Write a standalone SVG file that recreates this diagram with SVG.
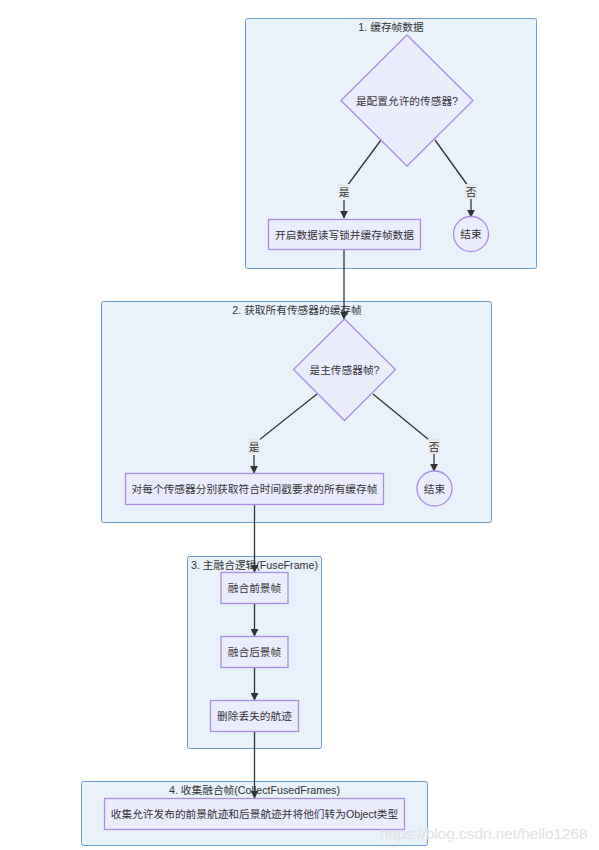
<svg xmlns="http://www.w3.org/2000/svg" width="599" height="850" viewBox="0 0 599 850">
<defs>
<marker id="arr" viewBox="0 0 10 10" refX="9" refY="5" markerWidth="8" markerHeight="8" markerUnits="userSpaceOnUse" orient="auto">
<path d="M0,0 L10,5 L0,10 z" fill="#333"/>
</marker>
<style>
text{font-family:"Liberation Sans","Noto Sans CJK SC",sans-serif;font-size:10.7px;fill:#333;text-anchor:middle;dominant-baseline:central}
.cl{fill:#e9f1fb;stroke:#6d9bd3;stroke-width:1}
.nd{fill:#ececff;stroke:#a98ee4;stroke-width:1.3}
.ed{fill:none;stroke:#333;stroke-width:1.3}
.lb{fill:#e8e8e8}
.wm{fill:#e2e2e2;font-size:15.3px;text-anchor:start}
</style>
</defs>
<rect width="599" height="850" fill="#fff"/>
<g id="cluster1"><rect class="cl" x="245.5" y="18.5" width="291" height="250" rx="2"/><text x="391" y="27">1. 缓存帧数据</text></g>
<g id="cluster2"><rect class="cl" x="101.5" y="301.5" width="390" height="221" rx="2"/><text x="297" y="310">2. 获取所有传感器的缓存帧</text></g>
<g id="cluster3"><rect class="cl" x="187.5" y="556.5" width="134" height="192" rx="2"/><text x="254.5" y="565">3. 主融合逻辑(FuseFrame)</text></g>
<g id="cluster4"><rect class="cl" x="81.5" y="781.5" width="346" height="64" rx="2"/><text x="254.5" y="790">4. 收集融合帧(CollectFusedFrames)</text></g>

<g id="connectors">
<path class="ed" d="M381,140 L344,190"/>
<path class="ed" d="M344,200 L344,218" marker-end="url(#arr)"/>
<path class="ed" d="M435,140 L471,190"/>
<path class="ed" d="M471,199 L471,217" marker-end="url(#arr)"/>
<path class="ed" d="M344,249 L344,319" marker-end="url(#arr)"/>
<path class="ed" d="M317,394 L254,444"/>
<path class="ed" d="M254,455 L254,473" marker-end="url(#arr)"/>
<path class="ed" d="M373,394 L434,444"/>
<path class="ed" d="M434,454 L434,471" marker-end="url(#arr)"/>
<path class="ed" d="M254.5,504 L254.5,572" marker-end="url(#arr)"/>
<path class="ed" d="M254.5,603 L254.5,636" marker-end="url(#arr)"/>
<path class="ed" d="M254.5,668 L254.5,700" marker-end="url(#arr)"/>
<path class="ed" d="M254.5,732 L254.5,798" marker-end="url(#arr)"/>
<rect class="lb" x="338" y="184" width="12" height="15"/><text x="344" y="191.5">是</text>
<rect class="lb" x="465" y="184" width="12" height="15"/><text x="471" y="191.5">否</text>
<rect class="lb" x="248" y="439" width="12" height="15"/><text x="254" y="446.5">是</text>
<rect class="lb" x="428" y="439" width="12" height="15"/><text x="434" y="446.5">否</text>
</g>

<g id="decision1"><polygon class="nd" points="407,35 473,100.5 407,166 341,100.5"/><text x="407" y="100.5">是配置允许的传感器?</text></g>
<g id="cache"><rect class="nd" x="268.5" y="219.5" width="152" height="30"/><text x="344.5" y="234.5">开启数据读写锁并缓存帧数据</text></g>
<g id="end1"><circle class="nd" cx="471" cy="234" r="17.5"/><text x="471" y="234">结束</text></g>

<g id="decision2"><polygon class="nd" points="344.5,319 395.5,369.5 344.5,420.5 293.5,369.5"/><text x="344.5" y="369.5">是主传感器帧?</text></g>
<g id="getframes"><rect class="nd" x="125.5" y="473.5" width="258" height="31"/><text x="254.5" y="489">对每个传感器分别获取符合时间戳要求的所有缓存帧</text></g>
<g id="end2"><circle class="nd" cx="434.5" cy="488.5" r="17.5"/><text x="434.5" y="488.5">结束</text></g>

<g id="fuseFg"><rect class="nd" x="221" y="572.5" width="67" height="31"/><text x="254.5" y="588">融合前景帧</text></g>
<g id="fuseBg"><rect class="nd" x="221" y="636.5" width="67" height="31"/><text x="254.5" y="652">融合后景帧</text></g>
<g id="removeLost"><rect class="nd" x="210.5" y="700.5" width="88" height="31"/><text x="254.5" y="716">删除丢失的航迹</text></g>
<g id="collect"><rect class="nd" x="104.5" y="798.5" width="300" height="31"/><text x="254.5" y="814">收集允许发布的前景航迹和后景航迹并将他们转为Object类型</text></g>

<text class="wm" x="380" y="833">https://blog.csdn.net/hello1268</text>
</svg>
